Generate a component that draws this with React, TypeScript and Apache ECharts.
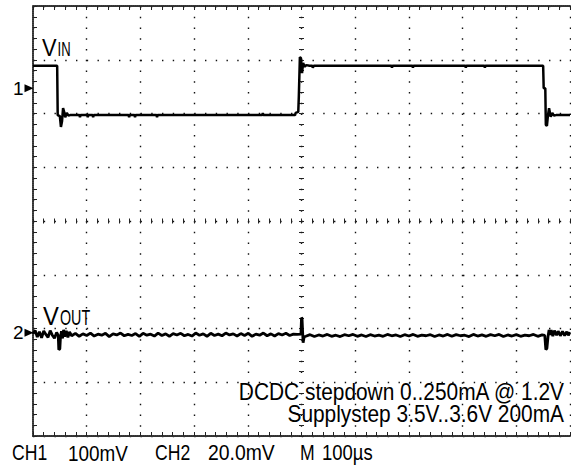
import React, { useEffect, useRef } from "react";
import * as echarts from "echarts";

// Time base: M 100 µs / div, 10 divisions
const timeMin = 0;
const timeMax = 1000;
const timeStep = 100;
// Screen: 8 vertical divisions, centred on 0
const divMin = -4;
const divMax = 4;
const CH1_MV_PER_DIV = 100;
const CH2_MV_PER_DIV = 20;
const CH1_MARKER_DIV = 2.47;
const CH2_MARKER_DIV = -2.08;

// CH1 (VIN), [time µs, mV relative to marker 1]
const ch1Trace: [number, number][] = [
  [0, 42], [45, 42], [46, -50], [50, -52], [52, -72], [54, -62], [56, -37], [58, -44],
  [60, -54], [63, -46], [66, -51], [69, -50], [86.5, -50], [87.5, -54], [88.5, -50],
  [101, -50], [102, -54], [103, -50], [111, -50], [112, -54], [113, -50],
  [178, -50], [179, -54], [180, -50], [189, -50], [190, -54], [191, -50],
  [230, -50], [231, -54], [232, -50], [427, -50], [428, -46], [429, -50],
  [488, -50], [489, -46], [494, -44], [495, -16], [497, 58], [499, 56], [501, 28],
  [503, 47], [506, 40], [509, 43], [515, 42], [520, 42], [521, 38], [523, 42],
  [667.5, 42], [668.5, 38], [669.5, 42], [706.5, 42], [707.5, 38], [708.5, 42],
  [805, 42], [806, 38], [807, 42], [840.5, 42], [841.5, 38], [842.5, 42],
  [950, 42], [951, 0], [954, 0], [955, -68], [957, -70], [959, -50], [961, -37],
  [964, -53], [967, -46], [970, -51], [974, -50], [1000, -50],
];

// CH2 (VOUT), [time µs, mV relative to marker 2]
const ch2Trace: [number, number][] = [
  [0, -0.4], [4, 0.9], [8, -1.6], [12, 0.4], [16, -1.9], [20, 0.7], [24, -0.6], [28, -1.7],
  [32, 0.8], [36, -0.9], [40, -2.0], [44, 0.1], [47, -1.0], [48, -6.3], [50, -6.0], [51, -2.2],
  [53, 0.6], [55, -2.1], [57, 1.1], [59, -1.4], [62, 0.7], [65, -1.7], [68, 0.3],
  [72, -1.1], [79, -0.2], [86, -1.3], [93, -0.4], [100, -1.0], [107, -0.1], [114, -1.2],
  [121, -0.5], [128, -0.9], [135, -0.2], [142, -1.4], [149, -0.4], [156, -0.8], [163, -0.1],
  [170, -1.1], [177, -0.6], [184, -1.0], [191, -0.3], [198, -1.3], [205, -0.2], [212, -0.9],
  [219, -0.5], [226, -1.2], [233, -0.1], [240, -1.0], [247, -0.4], [254, -1.3], [261, -0.3],
  [268, -0.8], [275, -0.2], [282, -1.1], [289, -0.6], [296, -1.2], [303, -0.1], [310, -0.9],
  [317, -0.4], [324, -1.3], [331, -0.2], [338, -1.0], [345, -0.5], [352, -1.1], [359, -0.1],
  [366, -0.8], [373, -0.4], [380, -1.2], [387, -0.3], [394, -1.0], [401, -0.2], [408, -1.3],
  [415, -0.5], [422, -0.9], [429, -0.1], [436, -1.1], [443, -0.4], [450, -1.2], [457, -0.3],
  [464, -0.8], [471, -0.2], [478, -1.0], [485, -0.5], [492, -0.6],
  [499, -0.5], [500, 5.6], [501, 5.4], [503, -3.7], [505, -1.5],
  [508, -1.3], [516, -0.7], [524, -1.4], [532, -0.8], [540, -1.2], [548, -0.6], [556, -1.3],
  [564, -0.9], [572, -1.4], [580, -0.7], [588, -1.1], [596, -0.6], [604, -1.3], [612, -0.8],
  [620, -1.4], [628, -0.7], [636, -1.2], [644, -0.9], [652, -1.3], [660, -0.6], [668, -1.1],
  [676, -0.8], [684, -1.4], [692, -0.7], [700, -1.2], [708, -0.6], [716, -1.3], [724, -0.9],
  [732, -1.1], [740, -0.7], [748, -1.4], [756, -0.8], [764, -1.2], [772, -0.6], [780, -1.3],
  [788, -0.7], [796, -1.1], [804, -0.9], [812, -1.4], [820, -0.6], [828, -1.2], [836, -0.8],
  [844, -1.3], [852, -0.7], [860, -1.1], [868, -0.6], [876, -1.4], [884, -0.8], [892, -1.2],
  [900, -0.7], [908, -1.3], [916, -0.9], [924, -1.1], [932, -0.6], [940, -1.3], [948, -0.8],
  [953, -1.0], [955, -6.3], [957, -5.8], [959, -1.5], [961, 1.1], [963, -0.8], [965, 1.0],
  [968, -1.2], [971, 0.8], [975, -0.9], [978, 0.6], [982, -1.1], [986, 0.5], [990, -1.0],
  [994, 0.4], [997, -0.9], [1000, 0.2],
];

const channelMarkers = ["1", "2"];
const traceLabels = [["V", "IN"], ["V", "OUT"]];
const noteLines = ["DCDC stepdown 0..250mA @ 1.2V", "Supplystep 3.5V..3.6V 200mA"];
const statusLabels = ["CH1", "100mV", "CH2", "20.0mV", "M", "100\u00b5s"];

const FONT = '"Liberation Sans", Arial, sans-serif';

function txt(text: string, x: number, y: number, size: number, scaleX: number, align = "left") {
  return {
    type: "text",
    x,
    y,
    scaleX,
    silent: true,
    style: {
      text,
      x: 0,
      y: 0,
      fill: "#000",
      fontSize: size,
      fontFamily: FONT,
      align,
      verticalAlign: "middle",
      textAlign: align,
      textVerticalAlign: "middle",
    },
  };
}

const dotStyle = { color: "#111", width: 1.4, type: [1.4, 9.35] };
const borderStyle = { color: "#333", width: 2, type: [1, 1] };
const tickStyle = { color: "#222", width: 1 };

function xAx(position: string, offset: number, opts: any) {
  return {
    type: "value",
    min: timeMin,
    max: timeMax,
    interval: timeStep,
    position,
    offset,
    axisLine: { show: false, onZero: false },
    axisTick: { show: false },
    minorTick: { show: false },
    axisLabel: { show: false },
    splitLine: { show: false },
    ...opts,
  };
}
function yAx(position: string, offset: number, opts: any) {
  return {
    type: "value",
    min: divMin,
    max: divMax,
    interval: 1,
    position,
    offset,
    axisLine: { show: false, onZero: false },
    axisTick: { show: false },
    minorTick: { show: false },
    axisLabel: { show: false },
    splitLine: { show: false },
    ...opts,
  };
}
function ticks(inside: boolean, len: number) {
  return {
    axisTick: { show: true, inside, length: len, lineStyle: tickStyle },
    minorTick: { show: true, splitNumber: 5, length: len, lineStyle: tickStyle },
  };
}

export default function App() {
  const ref = useRef<HTMLDivElement>(null);
  useEffect(() => {
    if (!ref.current) return;
    const chart = echarts.init(ref.current, undefined, { renderer: "svg" });
    const ch1Data = ch1Trace.map(([t, v]) => [t, CH1_MARKER_DIV + v / CH1_MV_PER_DIV]);
    const ch2Data = ch2Trace.map(([t, v]) => [t, CH2_MARKER_DIV + v / CH2_MV_PER_DIV]);
    const marker = (label: string, level: number) => ({
      symbol: "triangle",
      symbolSize: [8, 9],
      symbolRotate: -90,
      symbolOffset: [-4, 0],
      silent: true,
      itemStyle: { color: "#000" },
      label: {
        show: true,
        formatter: label,
        position: "left",
        distance: 1,
        color: "#000",
        fontSize: 19,
        fontFamily: FONT,
      },
      data: [{ coord: [timeMin, level] }],
    });
    chart.setOption({
      animation: false,
      backgroundColor: "#fff",
      grid: { left: 33, top: 6, width: 537, height: 430 },
      xAxis: [
        xAx("bottom", 0, {
          axisLine: { show: true, onZero: false, lineStyle: borderStyle },
          ...ticks(true, 4),
          splitLine: { show: true, lineStyle: dotStyle },
        }),
        xAx("top", 0, {
          axisLine: { show: true, onZero: false, lineStyle: borderStyle },
          ...ticks(true, 4),
        }),
        xAx("top", -215, ticks(true, 2.5)),
        xAx("top", -215, ticks(false, 2.5)),
      ],
      yAxis: [
        yAx("left", 0, {
          axisLine: { show: true, onZero: false, lineStyle: borderStyle },
          ...ticks(true, 4),
          splitLine: { show: true, lineStyle: dotStyle },
        }),
        yAx("left", -268.5, ticks(true, 2.5)),
        yAx("left", -268.5, ticks(false, 2.5)),
      ],
      series: [
        {
          name: "CH1",
          type: "line",
          xAxisIndex: 0,
          yAxisIndex: 0,
          data: ch1Data,
          showSymbol: false,
          lineStyle: { color: "#000", width: 2.5 },
          markPoint: marker(channelMarkers[0], CH1_MARKER_DIV),
        },
        {
          name: "CH2",
          type: "line",
          xAxisIndex: 0,
          yAxisIndex: 0,
          data: ch2Data,
          showSymbol: false,
          lineStyle: { color: "#000", width: 2.8 },
          markPoint: marker(channelMarkers[1], CH2_MARKER_DIV),
        },
      ],
      graphic: [
        txt(traceLabels[0][0], 42, 48.5, 23, 0.95),
        txt(traceLabels[0][1], 57.5, 50, 19.5, 0.67),
        txt(traceLabels[1][0], 43, 316, 25, 0.95),
        txt(traceLabels[1][1], 60, 317, 22, 0.65),
        txt(noteLines[0], 564, 391.5, 24, 0.87, "right"),
        txt(noteLines[1], 564, 413.5, 24, 0.87, "right"),
        txt(statusLabels[0], 12, 452.5, 22, 0.8),
        txt(statusLabels[1], 68, 452.5, 22, 0.86),
        txt(statusLabels[2], 155, 452.5, 22, 0.8),
        txt(statusLabels[3], 208, 452.5, 22, 0.88),
        txt(statusLabels[4], 300, 452.5, 22, 0.8),
        txt(statusLabels[5], 322, 452.5, 22, 0.84),
      ],
    });
    return () => chart.dispose();
  }, []);
  return (
    <div
      ref={ref}
      style={{ position: "fixed", left: 0, top: 0, width: 571, height: 468, background: "#fff" }}
    />
  );
}
